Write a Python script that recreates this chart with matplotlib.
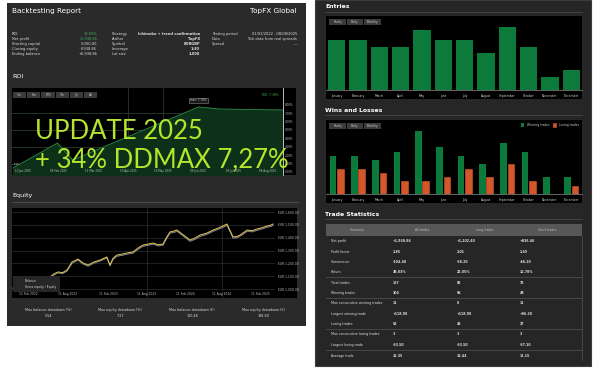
import matplotlib.pyplot as plt
from matplotlib.patches import Rectangle

# --- data ---
months = ['January', 'February', 'March', 'April', 'May', 'June', 'July',
          'August', 'September', 'October', 'November', 'December']
wins = [9, 9, 8, 10, 15, 11, 9, 7, 12, 10, 4, 4]
losses = [6, 6, 5, 3, 3, 4, 6, 4, 7, 3, 0, 2]
entries = [15, 15, 13, 13, 18, 15, 15, 11, 19, 13, 4, 6]

roi_days = [0, 38, 51, 159, 177, 231]
roi_values = [0.48, 3.45, 1.43, 7.74, 7.50, 7.38]
roi_ticks = ['0.00%', '1.00%', '2.00%', '3.00%', '4.00%', '5.00%', '6.00%', '7.00%', '8.00%']
roi_dates = ['10 Jan 2025', '09 Feb 2025', '11 Mar 2025', '10 Apr 2025',
             '10 May 2025', '09 Jun 2025', '09 Jul 2025', '08 Aug 2025']

eq_days = [0, 46, 92, 130, 170, 190, 207, 228, 248, 260, 271, 285, 299, 320, 345,
           370, 400, 418, 432, 446, 460, 478, 500, 524, 552, 575, 598, 620, 644,
           668, 690, 705, 722, 740, 754, 785, 814, 840, 860, 890, 920, 950, 984,
           1000, 1012, 1030, 1044, 1060, 1077, 1100, 1122, 1145, 1168, 1185, 1196]
eq_balance = [1008, 1015, 1031, 1060, 1094, 1120, 1133, 1128, 1148, 1180, 1211, 1222,
              1234, 1205, 1187, 1210, 1226, 1240, 1250, 1187, 1240, 1265, 1272, 1281,
              1289, 1320, 1343, 1350, 1359, 1345, 1351, 1400, 1445, 1452, 1460, 1420,
              1382, 1400, 1421, 1435, 1460, 1480, 1507, 1450, 1406, 1410, 1421, 1440,
              1460, 1455, 1468, 1478, 1491, 1498, 1507]
eq_gross = [1000, 1010, 1024, 1052, 1085, 1112, 1126, 1120, 1140, 1170, 1200, 1214,
            1226, 1196, 1178, 1200, 1218, 1232, 1242, 1180, 1230, 1256, 1262, 1272,
            1280, 1310, 1334, 1340, 1350, 1336, 1342, 1390, 1436, 1442, 1450, 1410,
            1372, 1390, 1410, 1426, 1450, 1470, 1496, 1440, 1396, 1400, 1412, 1430,
            1450, 1446, 1458, 1468, 1482, 1488, 1498]
eq_ticks = [1000, 1100, 1200, 1300, 1400, 1500, 1600]
eq_dates = ['12 Feb 2022', '11 Aug 2022', '11 Feb 2023', '11 Aug 2023',
            '11 Feb 2024', '11 Aug 2024', '11 Feb 2025']

stats_left = [('ROI', '38.83%'), ('Net profit', '+1,938.86'), ('Starting capital', '5,000.00'),
              ('Closing equity', '6,938.86'), ('Ending balance', '+6,938.86')]
stats_mid = [('Strategy', 'Ichimoku + trend confirmation'), ('Author', 'TopFX'),
             ('Symbol', 'EURGBP'), ('Leverage', '1:30'), ('Lot size', '1,000')]
stats_right = [('Testing period', '01/02/2022 - 08/08/2025'),
               ('Data', 'Tick data from real spreads'), ('Spread', '—')]
dd_labels = ['Max balance drawdown (%)', 'Max equity drawdown (%)',
             'Max balance drawdown (€)', 'Max equity drawdown (€)']
dd_values = ['5.54', '7.27', '100.48', '138.60']

table_header = ['Summary', 'All trades', 'Long trades', 'Short trades']
table_rows = [
    ['Net profit', '+1,938.86', '+1,102.40', '+836.46'],
    ['Profit factor', '1.85', '2.01', '1.69'],
    ['Commission', '-104.40', '-58.20', '-46.20'],
    ['Return', '38.83%', '22.05%', '16.78%'],
    ['Total trades', '157', '82', '75'],
    ['Winning trades', '104', '56', '48'],
    ['Max consecutive winning trades', '11', '8', '11'],
    ['Largest winning trade', '+118.90', '+118.90', '+96.30'],
    ['Losing trades', '53', '26', '27'],
    ['Max consecutive losing trades', '3', '3', '3'],
    ['Largest losing trade', '-63.50', '-63.50', '-57.10'],
    ['Average trade', '12.35', '13.44', '11.15'],
]

W, H = 600, 369
fig = plt.figure(figsize=(W / 100, H / 100), dpi=100)
fig.patch.set_facecolor('white')

GREEN = '#0b7a3b'
ORANGE = '#d4572b'
PANEL = '#2a2a2a'
SMALL = 2.6


def rect(x0, y0, x1, y1, color, ec='none', lw=0, z=-10):
    fig.patches.append(Rectangle((x0 / W, 1 - y1 / H), (x1 - x0) / W, (y1 - y0) / H,
                                 transform=fig.transFigure, facecolor=color,
                                 edgecolor=ec, linewidth=lw, zorder=z))


def axes_px(x0, y0, x1, y1):
    ax = fig.add_axes([x0 / W, 1 - y1 / H, (x1 - x0) / W, (y1 - y0) / H])
    return ax


def txt(x, y, s, size=SMALL, color='#dddddd', ha='left', **kw):
    fig.text(x / W, 1 - y / H, s, fontsize=size, color=color, ha=ha, va='center',
             zorder=5, **kw)


def hline(x0, x1, y, color='#444444', lw=0.6):
    fig.add_artist(plt.Line2D([x0 / W, x1 / W], [1 - y / H, 1 - y / H],
                              transform=fig.transFigure, color=color, linewidth=lw,
                              zorder=4))


def buttons(x0, y0, labels, width, height=6):
    for i, lab in enumerate(labels):
        rect(x0 + i * width, y0, x0 + (i + 1) * width - 1, y0 + height, '#3b3b3b', z=4)
        txt(x0 + i * width + (width - 1) / 2, y0 + height / 2, lab, size=2.2,
            color='#cccccc', ha='center')


# ---------------- left panel ----------------
rect(7, 3, 306, 326, PANEL)
txt(12, 11, 'Backtesting Report', size=5.2, color='white')
txt(297, 11, 'TopFX Global', size=5.2, color='white', ha='right')

rows_y = [34, 39, 44, 49, 54]
for i, (lab, val) in enumerate(stats_left):
    txt(12, rows_y[i], lab)
    txt(97, rows_y[i], val, color='#3fae5a' if i < 2 else '#dddddd', ha='right')
for i, (lab, val) in enumerate(stats_mid):
    txt(112, rows_y[i], lab)
    txt(200, rows_y[i], val, ha='right', weight='bold')
for i, (lab, val) in enumerate(stats_right):
    txt(212, rows_y[i], lab)
    txt(297, rows_y[i], val, ha='right')

# ROI
txt(12, 77, 'ROI', size=4.6, color='white')
rect(12, 88, 296, 175, 'black')
ax = axes_px(12, 88, 283, 175)
ax.set_facecolor('none')
ax.fill_between(roi_days, roi_values, -1, color='#0c3118', zorder=1)
ax.plot(roi_days, roi_values, color='#2f8a48', linewidth=0.6, zorder=2)
ax.set_xlim(-0.9, 231.4)
ax.set_ylim(-0.36, 10)
for g in [1, 3, 5, 7]:
    ax.axhline(g, color='#2f4a34', linewidth=0.5, zorder=0)
date_pos = [8.6 + 30 * i for i in range(len(roi_dates))]
for d in date_pos[3:5]:
    ax.axvline(d, color='#3a3a3a', linewidth=0.5, zorder=0)
ax.set_xticks(date_pos)
ax.set_xticklabels(roi_dates)
ax.set_yticks(range(len(roi_ticks)))
ax.set_yticklabels(roi_ticks)
ax.yaxis.tick_right()
ax.tick_params(axis='x', direction='in', pad=-4, labelsize=2.0, colors='#bbbbbb', length=0)
ax.tick_params(axis='y', labelsize=2.0, colors='#bbbbbb', length=0, pad=1.5)
for s in ['top', 'left', 'bottom']:
    ax.spines[s].set_visible(False)
ax.spines['right'].set_color('#dddddd')
ax.spines['right'].set_linewidth(0.6)
ax.annotate('max: 7.74%', (roi_days[3], roi_values[3]), xytext=(0, 4),
            textcoords='offset points', ha='center', fontsize=2.0, color='#cccccc',
            bbox=dict(boxstyle='square,pad=0.3', fc='#1a1a1a', ec='#888888', lw=0.4))
ax.text(0.5, roi_values[0] + 0.3, 'start', fontsize=2, color='#aaaaaa')
txt(278, 95, 'ROI: 7.38%', size=2.2, color='#3fae5a', ha='right')
buttons(13, 92, ['3m', '6m', 'YTD', '9m', '1y', 'All'], 14.2)

# big overlay text
txt(35, 131, 'UPDATE 2025', size=18.5, color='#b5e52c', family='Lato')
txt(35, 160, '+ 34% DDMAX 7,27%', size=18.5, color='#b5e52c', family='Lato')

# Equity
txt(12, 196, 'Equity', size=4.6, color='white')
hline(12, 298, 202, '#4a4a4a', 0.8)
rect(12, 208, 297, 298, 'black')
ax = axes_px(12, 208, 275, 298)
ax.set_facecolor('none')
ax.fill_between(eq_days, eq_gross, eq_balance, color='#555555', alpha=0.6, linewidth=0)
ax.plot(eq_days, eq_gross, color='#8a8a8a', linewidth=0.6)
ax.plot(eq_days, eq_balance, color='#e2c85c', linewidth=0.7)
ax.set_xlim(-4.6, 1205)
ax.set_ylim(930, 1632)
ax.set_yticks(eq_ticks)
ax.set_yticklabels(['EUR %s.00' % format(v, ',') for v in eq_ticks])
ax.yaxis.tick_right()
ax.grid(axis='y', color='#2e2e2e', linewidth=0.5)
eq_date_pos = [(px - 13) * 4.6 for px in [28, 68, 108, 147, 185, 222, 260]]
ax.set_xticks(eq_date_pos)
ax.set_xticklabels(eq_dates)
for d in eq_date_pos[3:6:2]:
    ax.axvline(d, color='#2e2e2e', linewidth=0.5, zorder=0)
ax.tick_params(axis='x', direction='in', pad=-4, labelsize=2.2, colors='#bbbbbb', length=0)
ax.tick_params(axis='y', labelsize=2.2, colors='#bbbbbb', length=0, pad=2)
for s in ax.spines.values():
    s.set_visible(False)
rect(13, 276, 60, 292, '#262626', z=4)
hline(15, 23, 281, '#e2c85c', 0.7)
hline(15, 23, 287, '#8a8a8a', 0.7)
txt(25, 281, 'Balance', size=2.2)
txt(25, 287, 'Gross equity / Equity', size=2.2)

dd_x = [48, 120, 192, 263]
for x, lab, val in zip(dd_x, dd_labels, dd_values):
    txt(x, 310, lab, size=2.4, ha='center')
    txt(x, 316, val, size=2.4, ha='center')

# ---------------- right panel ----------------
rect(315, 0, 591, 366, '#262626', ec='#3c3c3c', lw=0.8)

# Entries
txt(325, 6, 'Entries', size=4.4, color='white', weight='bold')
hline(325, 582, 12, '#444444', 0.6)
rect(326, 16, 582, 99, 'black', z=-5)
ax = axes_px(326, 16, 582, 90)
ax.set_facecolor('none')
ax.bar(range(12), entries, width=0.8, color=GREEN)
ax.set_xlim(-0.5, 11.5)
ax.set_ylim(0, 22.2)
ax.set_xticks(range(12))
ax.set_xticklabels(months)
ax.set_yticks([])
ax.tick_params(axis='x', labelsize=2.2, colors='#cccccc', length=0, pad=3)
for s in ['top', 'left', 'right']:
    ax.spines[s].set_visible(False)
ax.spines['bottom'].set_color('#777777')
ax.spines['bottom'].set_linewidth(0.6)
buttons(329, 19, ['Yearly', 'Daily', 'Monthly'], 17.5)

# Wins and Losses
txt(325, 110, 'Wins and Losses', size=4.4, color='white', weight='bold')
hline(325, 582, 115, '#444444', 0.6)
rect(326, 120, 582, 203, 'black', z=-5)
ax = axes_px(326, 120, 582, 194)
ax.set_facecolor('none')
xs = list(range(12))
ax.bar([x - 0.17 for x in xs], wins, width=0.31, color=GREEN, label='Winning trades')
ax.bar([x + 0.17 for x in xs], losses, width=0.31, color=ORANGE, edgecolor=ORANGE,
       linewidth=0.4, label='Losing trades')
ax.set_xlim(-0.5, 11.5)
ax.set_ylim(0, 17.5)
ax.set_xticks(xs)
ax.set_xticklabels(months)
ax.set_yticks([])
ax.tick_params(axis='x', labelsize=2.2, colors='#cccccc', length=0, pad=3)
for s in ['top', 'left', 'right']:
    ax.spines[s].set_visible(False)
ax.spines['bottom'].set_color('#777777')
ax.spines['bottom'].set_linewidth(0.6)
leg = ax.legend(loc='upper right', fontsize=2.2, frameon=False, ncol=2,
                handlelength=1.2, handleheight=1.2, columnspacing=1.0,
                borderaxespad=0.6, labelcolor='#cccccc')
buttons(329, 123, ['Yearly', 'Daily', 'Monthly'], 17.5)

# Trade statistics
txt(325, 214, 'Trade Statistics', size=4.4, color='white', weight='bold')
hline(325, 582, 219, '#444444', 0.6)
rect(326, 224, 582, 236, '#575757', z=-5)
col_centers = [357, 422, 485, 547]
for x, h in zip(col_centers, table_header):
    txt(x, 230, h, size=2.2, color='#bbbbbb', ha='center')
row_y = [241, 252, 262, 272, 283, 293, 303, 314, 324, 334, 345, 356]
col_x = [331, 393, 457, 520]
for y, row in zip(row_y, table_rows):
    for j, (x, v) in enumerate(zip(col_x, row)):
        txt(x, y, v, size=2.3, color='#dddddd', weight='normal' if j == 0 else 'bold')
for y in [277, 298, 329, 350]:
    hline(326, 582, y, '#555555', 0.5)
fig.add_artist(plt.Line2D([582 / W, 582 / W], [1 - 236 / H, 1 - 360 / H],
                          transform=fig.transFigure, color='#555555', linewidth=0.5))

plt.savefig('out.png', dpi=100, facecolor='white')
